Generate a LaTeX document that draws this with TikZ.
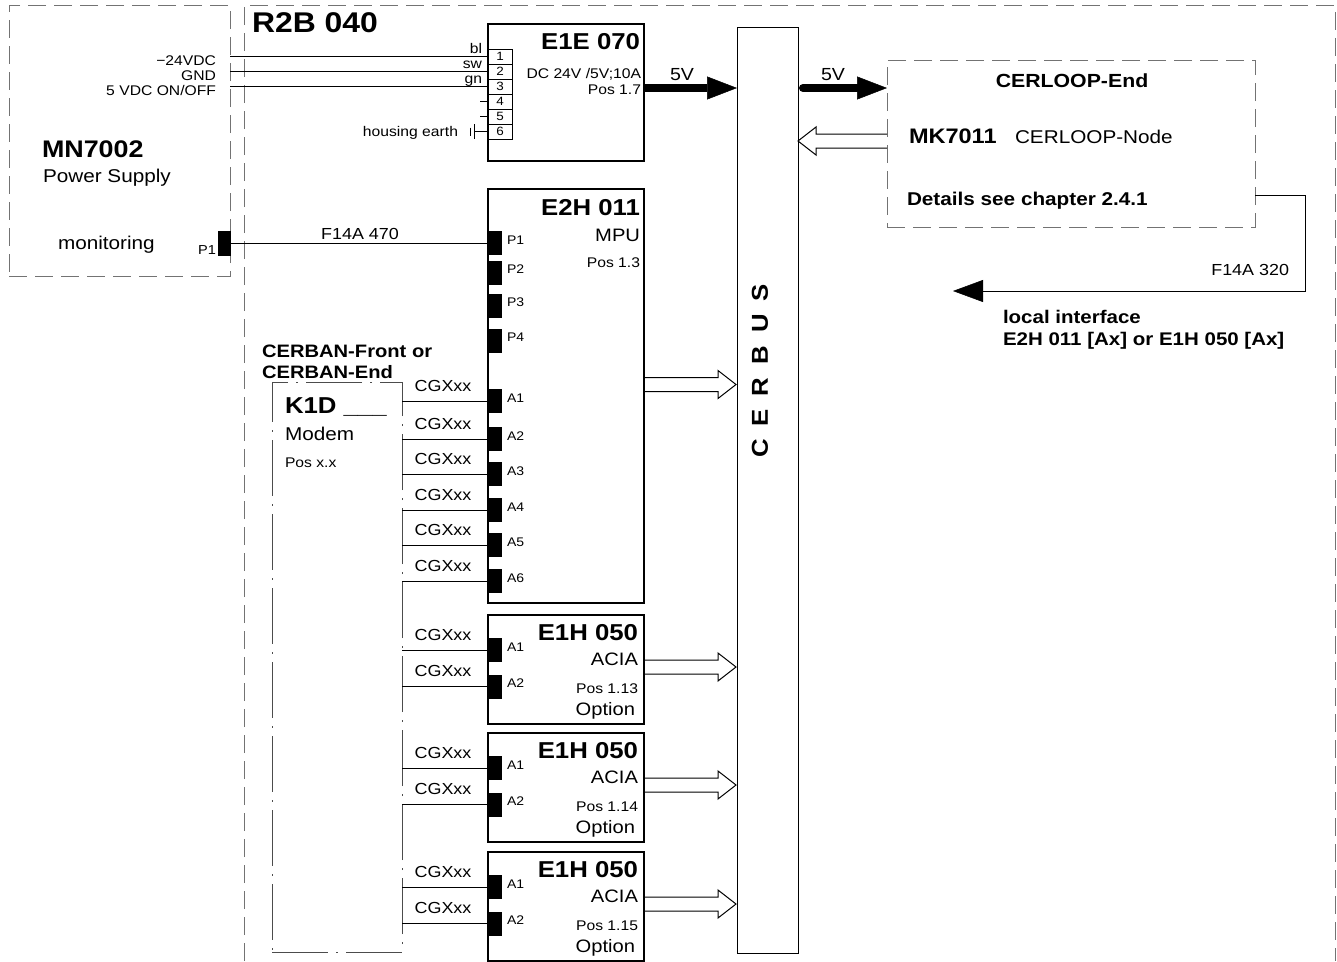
\documentclass[tikz,border=0pt]{standalone}
\usepackage{fontspec}
\setmainfont{Liberation Sans}[FakeStretch=1.12]
\usetikzlibrary{arrows.meta}
\newcommand\myfs[1]{\fontsize{#1pt}{#1pt}\selectfont}
\tikzset{
  pics/hollowR/.style={code={\draw[line width=1pt] (0,-7) -- ({#1-18},-7) -- ({#1-18},-14) -- (#1,0) -- ({#1-18},14) -- ({#1-18},7) -- (0,7);}},
}
\begin{document}
\begin{tikzpicture}[x=1pt,y=-1pt,
  every node/.style={inner sep=0pt, outer sep=0pt},
  dbox/.style={draw=black!55, line width=1pt, dash pattern=on 18pt off 8pt},
  kbox/.style={draw=black!70, line width=1pt, dash pattern=on 56pt off 8pt on 2pt off 8pt},
  module/.style={draw, line width=2pt, anchor=north west, minimum width=156pt},
  pinr/.style={fill=black, minimum width=14pt, minimum height=24pt},
  tblk/.style={draw, line width=0.8pt, minimum width=24pt, minimum height=15pt, font=\myfs{12}},
  wire/.style={line width=0.9pt},
  fat/.style={line width=8pt, -{Triangle[length=30pt,width=23pt,line width=0.5pt]}},
  lbR/.style={anchor=base east},
  lbL/.style={anchor=base west},
  lbC/.style={anchor=base},
]
\useasboundingbox (0,0) rectangle (1337,961);

% outer frames
\node[dbox, anchor=north west, minimum width=221pt, minimum height=271pt] (mn) at (9,5) {};
\draw[dbox] (244,961) -- (244,5) -- (1335,5) -- (1335,961);
\node[lbL, font=\myfs{28.5}\bfseries] (r2b) at (252,32) {R2B 040};

% MN7002
\node[lbL, font=\myfs{24}\bfseries] (mnt) at (42,157) {MN7002};
\node[lbL, font=\myfs{18.5}] (mnps) at (43,182) {Power Supply};
\node[lbL, font=\myfs{18.5}] (mnmon) at (58,249) {monitoring};
\node[lbR, font=\myfs{13}] (mnp1l) at (216,254) {P1};
\node[pinr, minimum width=13pt, minimum height=25pt] (mnp1) at (224.5,243) {};
\node[lbR, font=\myfs{14}] at (216,65) {−24VDC};
\node[lbR, font=\myfs{14}] at (216,80) {GND};
\node[lbR, font=\myfs{14}] at (216,95) {5 VDC ON/OFF};

% E1E 070
\node[module, minimum height=137pt] (e1e) at (488,24) {};
\foreach \k in {1,...,6} {
  \node[tblk] (t\k) at (500,{41.5+15*\k}) {\k};
}
\draw[wire] (mn.east |- t1) -- (t1.west);
\draw[wire] (mn.east |- t2) -- (t2.west);
\draw[wire] (mn.east |- t3) -- (t3.west);
\node[lbR, font=\myfs{14}] at (482,53.5) {bl};
\node[lbR, font=\myfs{14}] at (482,68.5) {sw};
\node[lbR, font=\myfs{14}] at (482,83.5) {gn};
\draw[wire] (t4.west) -- ++(-8,0);
\draw[wire] (t5.west) -- ++(-8,0);
\draw[wire] (t6.west) -- ++(-14,0) coordinate (gnd);
\draw[wire] (gnd) ++(0,-7.5) -- ++(0,15);
\draw[wire] (gnd) ++(-4,-4) -- ++(0,8);
\node[lbR, font=\myfs{14}] at (458,136) {housing earth};
\node[lbR, font=\myfs{23}\bfseries] at (640,49) {E1E 070};
\node[lbR, font=\myfs{14}] at (641,78) {DC 24V /5V;10A};
\node[lbR, font=\myfs{14}] at (641,94) {Pos 1.7};

% CERBUS
\node[draw, line width=1pt, anchor=north west, minimum width=61pt, minimum height=926pt] (cerbus) at (737,27) {};
\node[rotate=90, font=\myfs{23}\bfseries] (cerbustext) at (760,371) {C\hspace{13pt}E\hspace{13pt}R\hspace{13pt}B\hspace{13pt}U\hspace{13pt}S};

\draw[fat] (e1e.east |- 0,88) -- (cerbus.west |- 0,88);
\node[lbC, font=\myfs{17.5}] at (682,80) {5V};

% E2H 011
\node[module, minimum height=414pt] (mpu) at (488,189) {};
\node[lbR, font=\myfs{23}\bfseries] at (640,215) {E2H 011};
\node[lbR, font=\myfs{18}] at (640,241) {MPU};
\node[lbR, font=\myfs{14}] at (640,267) {Pos 1.3};
\foreach \n/\c in {P1/243,P2/272.5,P3/305.5,P4/340.5,A1/401,A2/439,A3/474,A4/510,A5/545,A6/581} {
  \node[pinr] (mpu\n) at (495,\c) {};
  \node[lbL, font=\myfs{12.5}] at (507,\c+1) {\n};
}
\draw[wire] (mnp1.east) -- (mpuP1.west);
\node[lbC, font=\myfs{16}] at (360,239) {F14A 470};
\pic at (mpu.east |- 0,384.5) {hollowR=92};

% K1D modem
\node[lbL, font=\myfs{18}\bfseries] at (262,357) {CERBAN-Front or};
\node[lbL, font=\myfs{18}\bfseries] at (262,378) {CERBAN-End};
\node[kbox, anchor=north west, minimum width=130pt, minimum height=570pt] (k1d) at (272,382) {};
\node[lbL, font=\myfs{23}\bfseries] at (285,413) {K1D \_\_\_};
\node[lbL, font=\myfs{18.5}] at (285,440) {Modem};
\node[lbL, font=\myfs{14}] at (285,467) {Pos x.x};
\foreach \n/\c in {A1/401,A2/439,A3/474,A4/510,A5/545,A6/581} {
  \draw[wire] (k1d.east |- mpu\n) -- (mpu\n.west);
  \node[lbC, font=\myfs{16}] at (443,\c-10) {CGXxx};
}

% E1H 050 options
\foreach \t/\p [count=\i] in {615/13,733/14,852/15} {
  \node[module, minimum height=109pt] (e1h\i) at (488,\t) {};
  \node[lbR, font=\myfs{23}\bfseries] at (638,\t+25) {E1H 050};
  \node[lbR, font=\myfs{18}] at (638,\t+50) {ACIA};
  \node[lbR, font=\myfs{14}] at (638,\t+78) {Pos 1.\p};
  \node[lbR, font=\myfs{18}] at (635,\t+100) {Option};
  \node[pinr] (pA\i) at (495,\t+35) {};
  \node[pinr] (pB\i) at (495,\t+71.5) {};
  \node[lbL, font=\myfs{12.5}] at (507,\t+36) {A1};
  \node[lbL, font=\myfs{12.5}] at (507,\t+72.5) {A2};
  \draw[wire] (k1d.east |- pA\i) -- (pA\i.west);
  \draw[wire] (k1d.east |- pB\i) -- (pB\i.west);
  \node[lbC, font=\myfs{16}] at (443,\t+25) {CGXxx};
  \node[lbC, font=\myfs{16}] at (443,\t+61.5) {CGXxx};
  \pic at (e1h\i.east |- 0,\t+52) {hollowR=92};
}

% CERLOOP
\node[dbox, anchor=north west, minimum width=368pt, minimum height=167pt] (cl) at (887,60) {};
\draw[fat, line cap=round] (803,88) -- (cl.west |- 0,88);
\node[lbC, font=\myfs{17.5}] at (833,80) {5V};
\pic[xscale=-1] at (cl.west |- 0,141) {hollowR=89};
\node[lbC, font=\myfs{19}\bfseries] at (1072,87) {CERLOOP-End};
\node[lbL, font=\myfs{21}\bfseries] at (909,143) {MK7011};
\node[lbL, font=\myfs{18.5}] at (1015,143) {CERLOOP-Node};
\node[lbL, font=\myfs{18.5}\bfseries] at (907,205) {Details see chapter 2.4.1};
\coordinate (li) at (953,291);
\draw[wire, -{Triangle[length=30pt,width=22pt,line width=0.5pt]}] (cl.east |- 0,195) -- (1305,195) -- (1305,291) -- (li);
\node[lbR, font=\myfs{16}] at (1289,275) {F14A 320};
\node[lbL, font=\myfs{18.3}\bfseries] at (1003,323) {local interface};
\node[lbL, font=\myfs{18.3}\bfseries] at (1003,345) {E2H 011 [Ax] or E1H 050 [Ax]};
\end{tikzpicture}
\end{document}
